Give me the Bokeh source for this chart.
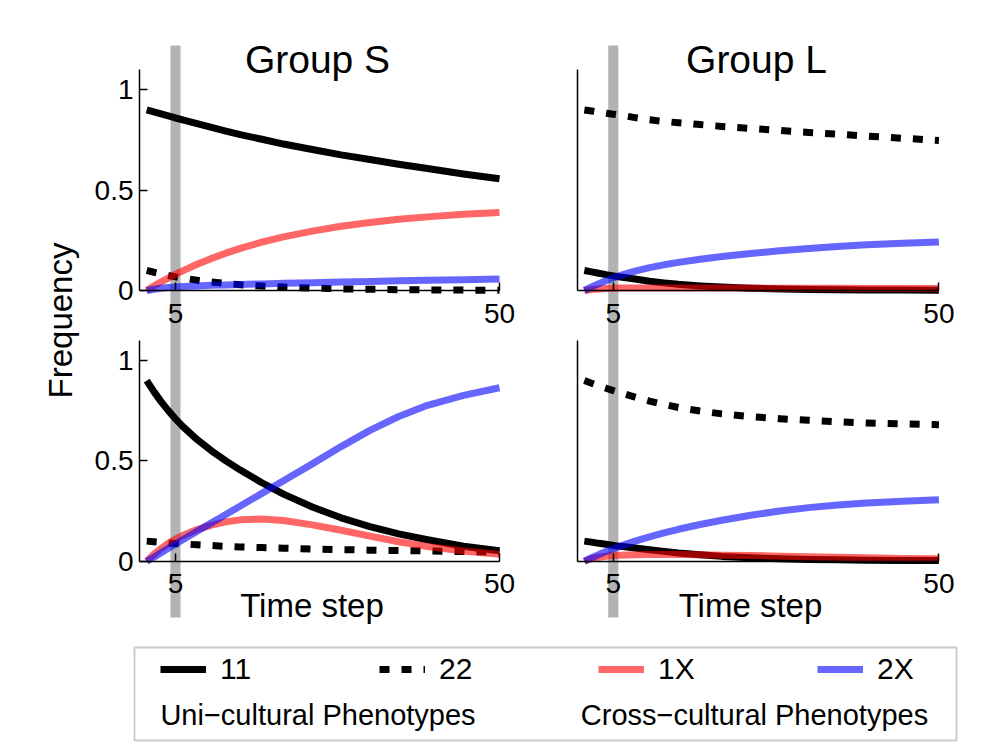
import math
from bokeh.plotting import figure
from bokeh.models import (Range1d, LinearAxis, FixedTicker, NumeralTickFormatter,
                          Label, Legend, LegendItem, BoxAnnotation)
from bokeh.embed import file_html
from bokeh.resources import INLINE

# ---------------- data ----------------
time_step = [1, 2, 3, 4, 5, 6, 8, 10, 12, 14, 17, 20, 24, 28, 32, 36, 40, 45, 50]
marker_step = 5
x_ticks = [5, 50]
y_ticks = [0, 0.5, 1]
group_names = ["Group S", "Group L"]
series_names = ["11", "22", "1X", "2X"]
legend_groups = ["Uni\u2212cultural Phenotypes", "Cross\u2212cultural Phenotypes"]

# Group S, top row
s_top_11 = [0.900, 0.890, 0.880, 0.870, 0.860, 0.851, 0.832, 0.813, 0.795, 0.777, 0.754, 0.730, 0.703, 0.676, 0.653, 0.629, 0.608, 0.581, 0.557]
s_top_22 = [0.100, 0.091, 0.083, 0.075, 0.068, 0.062, 0.051, 0.042, 0.035, 0.029, 0.022, 0.017, 0.012, 0.008, 0.006, 0.004, 0.003, 0.002, 0.001]
s_top_1x = [0.0, 0.022, 0.043, 0.062, 0.081, 0.098, 0.131, 0.160, 0.186, 0.210, 0.241, 0.267, 0.296, 0.320, 0.339, 0.355, 0.367, 0.380, 0.389]
s_top_2x = [0.0, 0.006, 0.011, 0.015, 0.018, 0.020, 0.023, 0.026, 0.028, 0.030, 0.033, 0.036, 0.039, 0.042, 0.045, 0.048, 0.051, 0.054, 0.057]

# Group L, top row
l_top_11 = [0.100, 0.093, 0.086, 0.079, 0.073, 0.067, 0.057, 0.046, 0.038, 0.031, 0.023, 0.017, 0.011, 0.008, 0.005, 0.004, 0.003, 0.002, 0.001]
l_top_22 = [0.900, 0.895, 0.889, 0.884, 0.879, 0.874, 0.862, 0.851, 0.843, 0.836, 0.827, 0.818, 0.808, 0.798, 0.788, 0.779, 0.770, 0.759, 0.748]
l_top_1x = [0.0, 0.005, 0.008, 0.010, 0.011, 0.012, 0.013, 0.013, 0.013, 0.013, 0.013, 0.012, 0.012, 0.011, 0.011, 0.011, 0.010, 0.010, 0.010]
l_top_2x = [0.0, 0.018, 0.034, 0.049, 0.063, 0.075, 0.097, 0.114, 0.128, 0.140, 0.156, 0.169, 0.184, 0.198, 0.209, 0.219, 0.228, 0.236, 0.242]

# Group S, bottom row
s_bot_11 = [0.900, 0.845, 0.795, 0.750, 0.709, 0.672, 0.606, 0.550, 0.500, 0.454, 0.391, 0.334, 0.270, 0.216, 0.172, 0.136, 0.107, 0.0745, 0.052]
s_bot_22 = [0.100, 0.097, 0.094, 0.091, 0.088, 0.086, 0.082, 0.078, 0.074, 0.071, 0.068, 0.065, 0.061, 0.058, 0.055, 0.053, 0.051, 0.048, 0.045]
s_bot_1x = [0.0, 0.035, 0.063, 0.089, 0.110, 0.128, 0.158, 0.180, 0.196, 0.206, 0.210, 0.203, 0.181, 0.154, 0.125, 0.097, 0.073, 0.051, 0.034]
s_bot_2x = [0.0, 0.020, 0.042, 0.064, 0.086, 0.107, 0.149, 0.191, 0.233, 0.275, 0.338, 0.401, 0.485, 0.571, 0.652, 0.721, 0.777, 0.826, 0.864]

# Group L, bottom row
l_bot_11 = [0.100, 0.095, 0.089, 0.084, 0.079, 0.074, 0.066, 0.057, 0.049, 0.041, 0.032, 0.024, 0.017, 0.012, 0.009, 0.007, 0.005, 0.004, 0.003]
l_bot_22 = [0.900, 0.887, 0.874, 0.862, 0.850, 0.839, 0.818, 0.798, 0.781, 0.766, 0.748, 0.734, 0.720, 0.710, 0.702, 0.695, 0.689, 0.684, 0.680]
l_bot_1x = [0.0, 0.012, 0.020, 0.025, 0.028, 0.030, 0.032, 0.033, 0.033, 0.033, 0.032, 0.030, 0.028, 0.025, 0.022, 0.020, 0.017, 0.014, 0.012]
l_bot_2x = [0.0, 0.017, 0.033, 0.048, 0.062, 0.075, 0.100, 0.121, 0.141, 0.159, 0.183, 0.204, 0.229, 0.250, 0.267, 0.280, 0.290, 0.299, 0.306]

# ---------------- layout (pixels) ----------------
W, H = 995, 752
FONT = "Liberation Sans"

def xrange_for(px0, px_per_unit):
    return Range1d(-px0 / px_per_unit, (W - px0) / px_per_unit)

def yrange_for(py0, px_per_unit):
    return Range1d(-(H - py0) / px_per_unit, py0 / px_per_unit)

p = figure(width=W, height=H, x_range=Range1d(0, W), y_range=Range1d(H, 0),
           x_axis_type=None, y_axis_type=None, toolbar_location=None,
           output_backend="svg", min_border=0, outline_line_color=None)
p.extra_x_ranges = {"xL": xrange_for(139.0, 7.2), "xR": xrange_for(576.6, 7.236)}
p.extra_y_ranges = {"yT": yrange_for(290.0, 200.6), "yB": yrange_for(560.7, 200.7)}

# grey marker band at the chosen time step, spanning both rows
for xr in ("xL", "xR"):
    p.vbar(x=[marker_step], width=1.4, top=45, bottom=617, x_range_name=xr,
           fill_color="#b3b3b3", line_color=None)

panels = [
    ("xL", "yT", True, (s_top_11, s_top_22, s_top_1x, s_top_2x)),
    ("xR", "yT", False, (l_top_11, l_top_22, l_top_1x, l_top_2x)),
    ("xL", "yB", True, (s_bot_11, s_bot_22, s_bot_1x, s_bot_2x)),
    ("xR", "yB", False, (l_bot_11, l_bot_22, l_bot_1x, l_bot_2x)),
]

legend_renderers = None
for xr, yr, left, (v11, v22, v1x, v2x) in panels:
    kw = dict(x_range_name=xr, y_range_name=yr, line_width=7, line_join="round")
    r11 = p.line(time_step, v11, line_color="black", **kw)
    r22 = p.line(time_step, v22, line_color="black", line_dash="10 12", **kw)
    r1x = p.line(time_step, v1x, line_color="red", line_alpha=0.6, **kw)
    r2x = p.line(time_step, v2x, line_color="blue", line_alpha=0.6, **kw)
    if legend_renderers is None:
        legend_renderers = [r11, r22, r1x, r2x]

    common = dict(x_range_name=xr, y_range_name=yr, fixed_location=0,
                  axis_line_color="black", axis_line_width=1.5,
                  major_tick_in=8, major_tick_out=0, minor_tick_in=0, minor_tick_out=0,
                  major_tick_line_width=1.5, major_tick_line_color="black",
                  major_label_text_font=FONT, major_label_text_font_size="28px",
                  major_label_text_color="black")
    xa = LinearAxis(bounds=(0, 50), ticker=FixedTicker(ticks=x_ticks),
                    major_label_standoff=13, **common)
    p.add_layout(xa, "below")
    ya = LinearAxis(bounds=(0, 1.1), ticker=FixedTicker(ticks=y_ticks if left else []),
                    formatter=NumeralTickFormatter(format="0.[0]"),
                    major_label_standoff=6, **common)
    p.add_layout(ya, "left")

# titles and axis labels
for text, cx in zip(group_names, (317, 756)):
    p.add_layout(Label(x=cx, y=59, text=text, text_align="center", text_baseline="alphabetic",
                       text_font=FONT, text_font_size="39px", text_color="black"))
for cx in (311.5, 750):
    p.add_layout(Label(x=cx, y=605, text="Time step", text_align="center",
                       text_baseline="alphabetic", text_font=FONT,
                       text_font_size="33px", text_color="black"))
p.add_layout(Label(x=60, y=320, text="Frequency", angle=math.pi / 2, text_align="center",
                   text_baseline="alphabetic", text_font=FONT, text_font_size="33px",
                   text_color="black"))

# legend
legend = Legend(items=[LegendItem(label=n, renderers=[r]) for n, r in zip(series_names, legend_renderers)],
                orientation="horizontal", location=(160, 66), padding=0, margin=0, spacing=0,
                glyph_width=46, glyph_height=30, label_width=159, label_height=30,
                label_standoff=14, label_text_font=FONT, label_text_font_size="30px",
                label_text_color="black", border_line_color=None, background_fill_alpha=0)
p.add_layout(legend)
p.add_layout(BoxAnnotation(left=134, right=956, top=647, bottom=740, fill_color=None,
                           line_color="#4d4d4d", line_width=1.8))
for text, cx in zip(legend_groups, (317.5, 754)):
    p.add_layout(Label(x=cx, y=714, text=text, text_align="center", text_baseline="alphabetic",
                       text_font=FONT, text_font_size="29px", text_color="black"))

open("out.html", "w").write(file_html(p, INLINE))
